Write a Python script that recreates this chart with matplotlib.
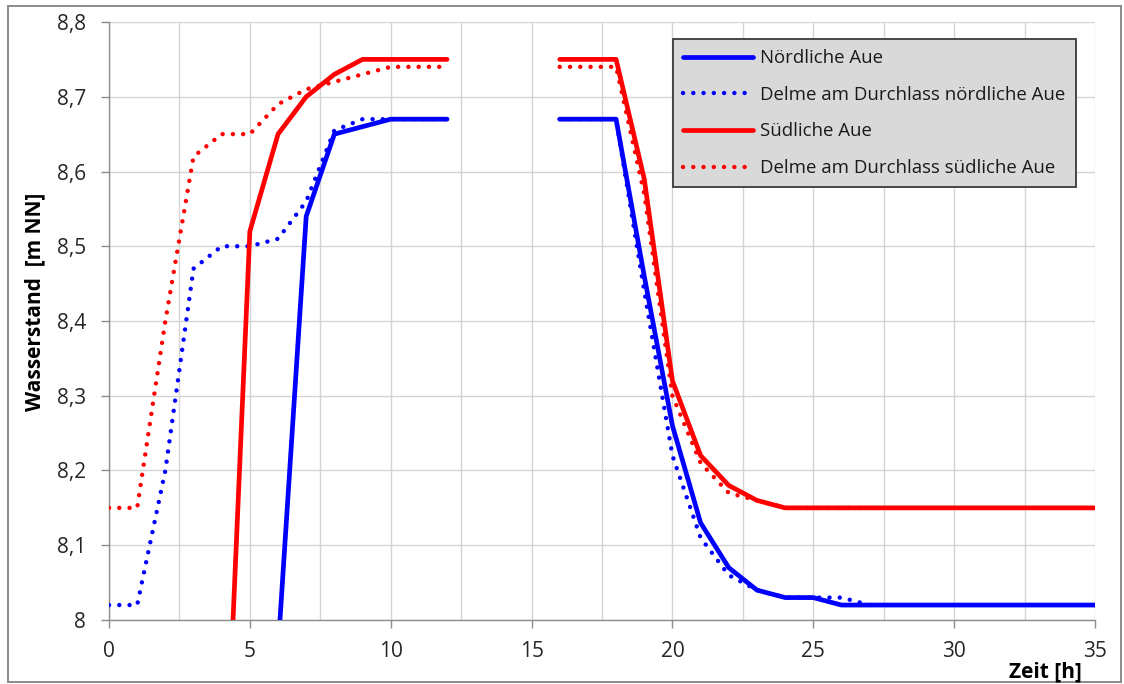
import numpy as np
import matplotlib
matplotlib.use("Agg")
import matplotlib.pyplot as plt
from matplotlib.patches import Rectangle
from matplotlib.ticker import MultipleLocator, FuncFormatter

nan = np.nan

# ---------------- data ----------------
hours = list(range(0, 36))

noerdliche_aue = [nan, nan, nan, nan, nan, nan, 7.96, 8.54, 8.65, 8.66,
                  8.67, 8.67, 8.67, nan, nan, nan, 8.67, 8.67, 8.67, 8.46,
                  8.26, 8.13, 8.07, 8.04, 8.03, 8.03, 8.02, 8.02, 8.02, 8.02,
                  8.02, 8.02, 8.02, 8.02, 8.02, 8.02]

delme_noerdlich = [8.02, 8.02, 8.20, 8.47, 8.50, 8.50, 8.51, 8.56, 8.655, 8.67,
                   8.67, 8.67, 8.67, nan, nan, nan, 8.67, 8.67, 8.67, 8.44,
                   8.22, 8.11, 8.06, 8.04, 8.03, 8.03, 8.03, 8.02, nan, nan,
                   nan, nan, nan, nan, nan, nan]

suedliche_aue = [nan, nan, nan, nan, 7.65, 8.52, 8.65, 8.70, 8.73, 8.75,
                 8.75, 8.75, 8.75, nan, nan, nan, 8.75, 8.75, 8.75, 8.59,
                 8.32, 8.22, 8.18, 8.16, 8.15, 8.15, 8.15, 8.15, 8.15, 8.15,
                 8.15, 8.15, 8.15, 8.15, 8.15, 8.15]

delme_suedlich = [8.15, 8.15, 8.40, 8.62, 8.65, 8.65, 8.69, 8.71, 8.72, 8.73,
                  8.74, 8.74, 8.74, nan, nan, nan, 8.74, 8.74, 8.74, 8.57,
                  8.30, 8.21, 8.17, 8.16, 8.15, 8.15, 8.15, 8.15, nan, nan,
                  nan, nan, nan, nan, nan, nan]

series_labels = ["Nördliche Aue", "Delme am Durchlass nördliche Aue",
                 "Südliche Aue", "Delme am Durchlass südliche Aue"]

x_label = "Zeit [h]"
y_label = "Wasserstand  [m NN]"

# ---------------- figure ----------------
plt.rcParams['font.family'] = ['Open Sans', 'DejaVu Sans']

W, H = 1124, 684
fig = plt.figure(figsize=(W / 100, H / 100), dpi=100)
fig.patch.set_facecolor("white")

# outer chart border
fig.add_artist(Rectangle((8 / W, 1 - 682 / H), (1121 - 8) / W, (682 - 6) / H,
                         transform=fig.transFigure, fill=False,
                         edgecolor="#8a8a8a", linewidth=1.4))

ax = fig.add_axes([109 / W, 1 - 620 / H, (1095 - 109) / W, (620 - 22) / H])

blue = "#0000ff"
red = "#ff0000"
solid_lw = 3.4
dot_lw = 3.2
dot_style = (0, (0.01, 2.3))

ax.plot(hours, noerdliche_aue, color=blue, lw=solid_lw, label=series_labels[0],
        solid_capstyle="round", solid_joinstyle="round", zorder=3)
ax.plot(hours, delme_noerdlich, color=blue, lw=dot_lw, linestyle=dot_style,
        dash_capstyle="round", label=series_labels[1], zorder=4)
ax.plot(hours, suedliche_aue, color=red, lw=solid_lw, label=series_labels[2],
        solid_capstyle="round", solid_joinstyle="round", zorder=5)
ax.plot(hours, delme_suedlich, color=red, lw=dot_lw, linestyle=dot_style,
        dash_capstyle="round", label=series_labels[3], zorder=6)

ax.set_xlim(0, 35)
ax.set_ylim(8.0, 8.8)

ax.xaxis.set_major_locator(MultipleLocator(5))
ax.xaxis.set_minor_locator(MultipleLocator(2.5))
ax.yaxis.set_major_locator(MultipleLocator(0.1))

def yfmt(v, pos):
    s = f"{v:.1f}"
    if s.endswith(".0"):
        s = s[:-2]
    return s.replace(".", ",")

ax.yaxis.set_major_formatter(FuncFormatter(yfmt))
ax.xaxis.set_major_formatter(FuncFormatter(lambda v, p: f"{int(round(v))}"))

grid_c = "#d4d4d4"
ax.grid(True, which="major", axis="both", color=grid_c, lw=1.0, zorder=0)
ax.grid(True, which="minor", axis="x", color=grid_c, lw=1.0, zorder=0)
ax.set_axisbelow(True)

for side in ["top", "right"]:
    ax.spines[side].set_visible(False)
for side in ["left", "bottom"]:
    ax.spines[side].set_color("#8c8c8c")
    ax.spines[side].set_linewidth(1.0)

tick_c = "#8c8c8c"
ax.tick_params(axis="x", which="major", direction="out", length=6, width=1.0,
               color=tick_c, labelsize=15, labelcolor="#262626", pad=9)
ax.tick_params(axis="x", which="minor", length=0)
ax.tick_params(axis="y", which="major", direction="out", length=5.5, width=1.0,
               color=tick_c, labelsize=15, labelcolor="#262626", pad=11)

# axis titles
fig.text(1082 / W, 1 - 677 / H, x_label, ha="right", va="baseline",
         fontsize=15, fontweight="bold", color="#000000")
fig.text(35 / W, 1 - 302 / H, y_label, ha="center", va="center",
         rotation=90, fontsize=15, fontweight="bold", color="#000000")

leg = ax.legend(loc="upper left", bbox_to_anchor=(673 / W, 1 - 39 / H),
                bbox_transform=fig.transFigure, borderaxespad=0,
                fontsize=13.4, handlelength=3.75, handletextpad=0.4,
                labelspacing=1.0, borderpad=0.55, fancybox=False,
                framealpha=1.0, facecolor="#d9d9d9", edgecolor="#3a3a3a")
leg.get_frame().set_linewidth(1.3)
for t in leg.get_texts():
    t.set_color("#1a1a1a")
leg.set_zorder(10)

fig.savefig("out.png", dpi=100, facecolor="white")
